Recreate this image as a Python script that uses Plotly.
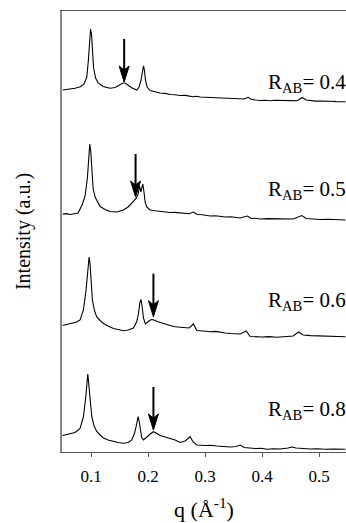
import plotly.graph_objects as go

# ---- data (q in 1/Angstrom, intensity in arbitrary units) ----
q_04 = [0.050, 0.057, 0.065, 0.072, 0.078, 0.081, 0.0877, 0.0925, 0.0953, 0.0974, 0.0991, 0.1009, 0.1023,
        0.1044, 0.1079, 0.1123, 0.1211, 0.1333, 0.1421, 0.1491, 0.1561, 0.1596, 0.1649, 0.1719, 0.1802,
        0.1842, 0.1877, 0.1900, 0.1918, 0.1935, 0.1953, 0.1982, 0.2035, 0.212, 0.2211, 0.230, 0.2386,
        0.247, 0.2561, 0.265, 0.2789, 0.285, 0.2912, 0.300, 0.3088, 0.318, 0.327, 0.335, 0.3439, 0.352,
        0.360, 0.3684, 0.3754, 0.3807, 0.388, 0.3965, 0.405, 0.414, 0.4225, 0.4316, 0.440, 0.449, 0.4614,
        0.4702, 0.4772, 0.485, 0.4935, 0.5018, 0.510, 0.520, 0.530, 0.546]
i_04 = [17, 17.5, 18.2, 18.8, 19.8, 20.3, 23, 30, 47, 67, 78, 72, 57,
        39, 29, 24, 20.5, 18.7, 19.5, 21.5, 24, 24, 22, 19, 17,
        20, 27, 37, 41, 37, 27, 20, 16.5, 15.2, 14, 13.6, 12.5,
        12.3, 11.5, 11.6, 10.3, 10.8, 10.0, 9.8, 9.5, 9.7, 8.9, 9.1, 8.5, 8.6,
        8.1, 8.0, 9.7, 7.7, 7.0, 6.5, 6.8, 6.3, 6.7, 6.5, 6.0, 6.4, 6.3,
        9.5, 7.0, 6.2, 5.9, 6.0, 5.6, 5.8, 5.4, 5.3]

q_05 = [0.050, 0.057, 0.0632, 0.070, 0.0772, 0.0842, 0.0895, 0.0935, 0.0960, 0.0977, 0.0995, 0.1012, 0.1035,
        0.1070, 0.1158, 0.1246, 0.1333, 0.1456, 0.1567, 0.1649, 0.1702, 0.1754, 0.1789, 0.1825, 0.1851,
        0.1872, 0.1889, 0.1907, 0.1930, 0.1947, 0.1977, 0.2035, 0.212, 0.2211, 0.230, 0.2386, 0.247,
        0.2561, 0.264, 0.2719, 0.2795, 0.2860, 0.295, 0.3088, 0.318, 0.3351, 0.345, 0.3614, 0.3742, 0.3807,
        0.388, 0.3965, 0.410, 0.4316, 0.445, 0.4544, 0.4696, 0.4772, 0.490, 0.5018, 0.515, 0.530, 0.546]
i_05 = [8, 8.4, 7.5, 8.2, 9, 17, 26, 44, 64, 78, 70, 49, 34,
        25, 15.5, 12.5, 10.5, 10, 12, 15, 18, 21.5, 23.5, 28, 36,
        30, 35, 38, 29, 20, 15, 12, 11.2, 10.5, 10.1, 9.5, 9.6,
        9, 8.6, 8.2, 10, 7.5, 7.2, 6, 6.3, 5, 5.3, 4, 6, 3.5,
        3.8, 3, 3.4, 3, 3.3, 3, 6.5, 3.5, 3.0, 2.5, 2.8, 2.2, 2]

q_06 = [0.050, 0.058, 0.0689, 0.075, 0.0807, 0.0865, 0.0912, 0.0942, 0.0965, 0.0982, 0.0995, 0.1023, 0.1061,
        0.1100, 0.1158, 0.1216, 0.1298, 0.1391, 0.1474, 0.1567, 0.1649, 0.1742, 0.1798, 0.1830, 0.1854,
        0.1877, 0.1898, 0.1918, 0.1953, 0.1982, 0.2023, 0.2065, 0.2105, 0.2158, 0.2211, 0.2298, 0.2386,
        0.247, 0.2561, 0.264, 0.2719, 0.2795, 0.2854, 0.2965, 0.3088, 0.318, 0.327, 0.3351, 0.345, 0.3614,
        0.3719, 0.3789, 0.3999, 0.412, 0.4258, 0.440, 0.4544, 0.4637, 0.4719, 0.485, 0.5018, 0.515, 0.530,
        0.546]
i_06 = [14.5, 15.5, 16.5, 18, 20, 30, 50, 73, 83, 76, 63, 40, 29,
        23, 19.5, 16.5, 14, 11.5, 10.5, 9.3, 10, 12, 18, 26, 37,
        40.5, 32, 22, 16, 17.5, 19.5, 20.5, 20, 18.5, 17.5, 15.5, 14.5,
        13.2, 12.7, 12.9, 12, 16, 9.5, 9, 8.3, 8.6, 7.4, 7, 6.5, 6,
        9, 3.5, 3, 3.4, 2.7, 3.3, 4, 8, 5, 4.4, 4, 3.6, 3.8,
        3.3]

q_08 = [0.050, 0.0632, 0.0719, 0.0807, 0.0865, 0.0907, 0.0930, 0.0942, 0.0956, 0.0970, 0.1012, 0.1053, 0.1100,
        0.1158, 0.1216, 0.1298, 0.1391, 0.1474, 0.1567, 0.1649, 0.1714, 0.1763, 0.1789, 0.1825, 0.1842,
        0.1860, 0.1886, 0.1918, 0.1965, 0.2000, 0.2035, 0.2093, 0.2140, 0.2211, 0.2298, 0.2386, 0.2474,
        0.2561, 0.2649, 0.2702, 0.2737, 0.2789, 0.2854, 0.3000, 0.310, 0.3205, 0.332, 0.3439, 0.3544, 0.3614,
        0.3684, 0.3877, 0.398, 0.4082, 0.420, 0.4316, 0.4456, 0.4521, 0.4596, 0.4842, 0.497, 0.5105, 0.525,
        0.546]
i_08 = [16.5, 18.5, 19.5, 23.5, 35, 55, 72, 78, 70, 59, 35.5, 26, 20.5,
        17, 14, 12, 10.5, 9.5, 8.7, 9.5, 12, 19, 25.3, 35.3, 31,
        22, 15, 12, 14, 16, 18, 20.3, 19, 16.5, 15, 13.7, 12,
        9.5, 11, 13.5, 15.3, 10, 7, 6.5, 6.8, 6, 5.6, 5, 5.5, 7,
        4.5, 3.5, 3.8, 2.7, 3.2, 3, 4, 5, 4, 3, 3.3, 2.7, 3.0,
        2.7]

ratios = ["0.4", "0.5", "0.6", "0.8"]
offsets = [345, 230, 112, 0]          # vertical shift of each curve
arrow_q = [0.158, 0.178, 0.2093, 0.2093]
arrow_tip = [25, 25, 23.3, 22]        # intensity at the arrow tip (curve units)
arrow_len = 43
label_q = 0.406
label_base = [17, 25.3, 32, 35]       # label baseline (curve units)

series_q = [q_04, q_05, q_06, q_08]
series_i = [i_04, i_05, i_06, i_08]

XR = [0.049, 0.547]
YR = [0, 441]
W, H = 346, 523
ML, MR, MT, MB = 62, 0, 11, 71
qpp = (XR[1] - XR[0]) / (W - ML - MR)   # q units per pixel
ypp = (YR[1] - YR[0]) / (H - MT - MB)   # y units per pixel

fig = go.Figure()
for qs, iv, off in zip(series_q, series_i, offsets):
    fig.add_trace(go.Scatter(x=qs, y=[v + off for v in iv], mode="lines",
                             line=dict(color="black", width=1.1), showlegend=False,
                             hoverinfo="skip"))

shapes = []
for aq, at, off in zip(arrow_q, arrow_tip, offsets):
    yt = at + off
    hl, hw, notch = 16 * ypp, 5 * qpp, 12 * ypp
    shapes.append(dict(type="line", xref="x", yref="y", x0=aq, x1=aq,
                       y0=yt + notch, y1=yt + arrow_len * ypp,
                       line=dict(color="black", width=2)))
    path = (f"M {aq},{yt} L {aq - hw},{yt + hl} L {aq},{yt + notch} "
            f"L {aq + hw},{yt + hl} Z")
    shapes.append(dict(type="path", xref="x", yref="y", path=path,
                       fillcolor="black", line=dict(color="black", width=1)))

annotations = []
for r, lb, off in zip(ratios, label_base, offsets):
    annotations.append(dict(x=label_q, y=lb + off + 7 * ypp, xref="x", yref="y",
                            text=f"R<sub>AB</sub>= {r}", showarrow=False,
                            xanchor="left", yanchor="middle",
                            font=dict(family="Liberation Serif", size=21, color="black")))

fig.update_layout(
    width=W, height=H,
    margin=dict(l=ML, r=MR, t=MT, b=MB),
    paper_bgcolor="white", plot_bgcolor="white",
    shapes=shapes, annotations=annotations,
    font=dict(family="Liberation Serif", color="black"),
)
fig.update_xaxes(range=XR, tickvals=[0.1, 0.2, 0.3, 0.4, 0.5],
                 ticktext=["0.1", "0.2", "0.3", "0.4", "0.5"],
                 ticks="outside", ticklen=4, tickcolor="#555", tickwidth=1,
                 showline=True, linecolor="#555", linewidth=1.2, mirror=True,
                 showgrid=False, zeroline=False, ticklabelstandoff=4,
                 tickfont=dict(family="Liberation Serif", size=17, color="black"),
                 title=dict(text="q (Å<sup>-1</sup>)", standoff=17,
                            font=dict(family="Liberation Serif", size=22, color="black")))
fig.update_yaxes(range=YR, showticklabels=False, ticks="", showline=True,
                 linecolor="#888", linewidth=1.6, showgrid=False, zeroline=False,
                 title=dict(text="Intensity (a.u.)", standoff=24,
                            font=dict(family="Liberation Serif", size=20, color="black")))

fig.write_html("out.html", config={"displayModeBar": False},
               post_script="document.body.style.margin='0px';document.body.style.overflow='hidden';")
